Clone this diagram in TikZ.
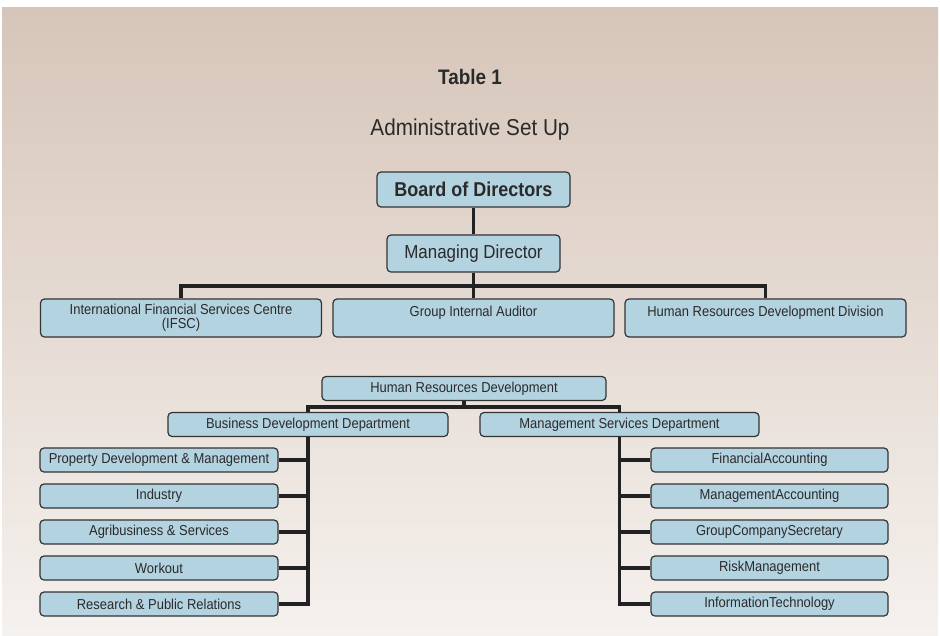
\documentclass[tikz,border=0pt]{standalone}
\usepackage{fontspec}
\setmainfont{Liberation Sans}[FakeStretch=0.9]
\usepackage{tikz}
\usetikzlibrary{calc}

\definecolor{bgtop}{HTML}{D6C5B9}
\definecolor{bgmid}{HTML}{E2D6CD}
\definecolor{bgbot}{HTML}{F5F1EE}
\definecolor{boxfill}{HTML}{B4D3E0}
\definecolor{boxline}{HTML}{333333}
\definecolor{inkgray}{HTML}{2A2A2A}
\definecolor{linkgray}{HTML}{222222}

\pgfdeclarelayer{background}
\pgfsetlayers{background,main}

\tikzset{
  orgbox/.style={draw=boxline, fill=boxfill, line width=1.2pt, rounded corners=4pt,
    text=inkgray, inner sep=2pt, align=center},
  bigbox/.style={orgbox, minimum width=281, minimum height=38, font=\fontsize{14.4}{14}\selectfont},
  unitbox/.style={orgbox, minimum height=24, font=\fontsize{14.4}{15}\selectfont},
  link/.style={draw=linkgray, line width=3.5pt}
}

\begin{document}
\begin{tikzpicture}[x=1pt, y=-1pt]

\useasboundingbox (0,0) rectangle (940,635);

\node [text=inkgray, font=\bfseries\fontsize{21}{24}\selectfont] (title) at (470,77) {Table 1};
\node [text=inkgray, font=\fontsize{23}{26}\selectfont] (subtitle) at (470,130) {Administrative Set Up};

\node [orgbox, minimum width=193, minimum height=35, font=\bfseries\fontsize{20}{22}\selectfont] (board) at (473.5,189.5) {Board of Directors};
\node [orgbox, minimum width=173, minimum height=37, font=\fontsize{18.8}{20}\selectfont] (md) at (473.5,253.5) {Managing Director};

\node [bigbox] (ifsc) at (181,318) {International Financial Services Centre\\(IFSC)};
\node [bigbox] (gia) at (473.5,318) {Group Internal Auditor\\\mbox{}};
\node [bigbox] (hrdd) at (765.5,318) {Human Resources Development Division\\\mbox{}};

\node [unitbox, minimum width=284] (hrd) at (464,388.5) {Human Resources Development};
\node [unitbox, minimum width=280] (bdd) at (308,424.5) {Business Development Department};
\node [unitbox, minimum width=279] (msd) at (619.5,424.5) {Management Services Department};

\node [unitbox, minimum width=238] (pdm) at (159,460) {Property Development \& Management};
\node [unitbox, minimum width=238] (ind) at (159,496) {Industry};
\node [unitbox, minimum width=238] (agri) at (159,532) {Agribusiness \& Services};
\node [unitbox, minimum width=238] (work) at (159,568) {Workout};
\node [unitbox, minimum width=238] (rpr) at (159,604) {Research \& Public Relations};

\node [unitbox, minimum width=237] (fa) at (769.5,460) {FinancialAccounting};
\node [unitbox, minimum width=237] (ma) at (769.5,496) {ManagementAccounting};
\node [unitbox, minimum width=237] (gcs) at (769.5,532) {GroupCompanySecretary};
\node [unitbox, minimum width=237] (risk) at (769.5,568) {RiskManagement};
\node [unitbox, minimum width=237] (it) at (769.5,604) {InformationTechnology};

\coordinate (bar) at (473.5,286);
\coordinate (split) at (464,407);

\begin{pgfonlayer}{background}
\fill [white] (0,0) rectangle (940,635);
\shade [top color=bgtop, middle color=bgmid, bottom color=bgbot] (2,7) rectangle (938,635);

\draw [link] (board.south) -- (md.north);
\draw [link] (md.south) -- (gia.north);
\draw [link] (ifsc.north) |- (bar) -| (hrdd.north);

\draw [link] (hrd.south) -- (split);
\draw [link] (bdd.north) |- (split) -| (msd.north);

\draw [link] (bdd.south) |- (rpr.east);
\draw [link] (pdm.east) -- (pdm.east -| bdd.south);
\draw [link] (ind.east) -- (ind.east -| bdd.south);
\draw [link] (agri.east) -- (agri.east -| bdd.south);
\draw [link] (work.east) -- (work.east -| bdd.south);

\draw [link] (msd.south) |- (it.west);
\draw [link] (fa.west) -- (fa.west -| msd.south);
\draw [link] (ma.west) -- (ma.west -| msd.south);
\draw [link] (gcs.west) -- (gcs.west -| msd.south);
\draw [link] (risk.west) -- (risk.west -| msd.south);
\end{pgfonlayer}

\end{tikzpicture}
\end{document}
